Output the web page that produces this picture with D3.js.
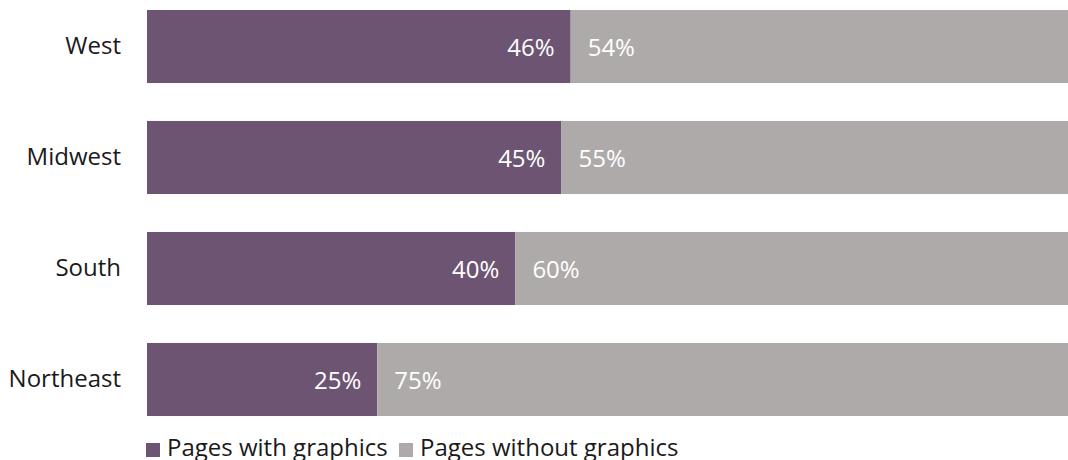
<!DOCTYPE html>
<html>
<head>
<meta charset="utf-8">
<script src="https://cdn.jsdelivr.net/npm/d3@7"></script>
<style>
  html, body { margin: 0; padding: 0; background: #fff; }
  svg { display: block; font-family: "Open Sans", sans-serif; }
</style>
</head>
<body>
<svg id="chart" width="1068" height="460"></svg>
<script>
// Share of pages with / without graphics by region
const regions = ["West", "Midwest", "South", "Northeast"];
const withGraphics = [46, 45, 40, 25];
const withoutGraphics = [54, 55, 60, 75];
const seriesNames = ["Pages with graphics", "Pages without graphics"];
const seriesColors = ["#6d5473", "#aeaaa9"];

const svg = d3.select("#chart");
const W = 1068;

const x = d3.scaleLinear().domain([0, 100]).range([147, W]);
const y = d3.scaleBand()
  .domain(regions)
  .range([-9, 435])
  .paddingInner(0.342)
  .paddingOuter(0.171);

const rows = regions.map((r, i) => ({
  region: r,
  parts: [
    { key: 0, x0: 0, x1: withGraphics[i], v: withGraphics[i] },
    { key: 1, x0: withGraphics[i], x1: withGraphics[i] + withoutGraphics[i], v: withoutGraphics[i] }
  ]
}));

const g = svg.append("g");

const row = g.selectAll("g.row").data(rows).join("g").attr("class", "row");

row.selectAll("rect")
  .data(d => d.parts.map(p => ({ ...p, region: d.region })))
  .join("rect")
  .attr("x", d => x(d.x0))
  .attr("y", d => y(d.region))
  .attr("width", d => x(d.x1) - x(d.x0))
  .attr("height", y.bandwidth())
  .attr("fill", d => seriesColors[d.key]);

// value labels either side of the split
row.selectAll("text.val")
  .data(d => d.parts.map(p => ({ ...p, region: d.region })))
  .join("text")
  .attr("class", "val")
  .attr("x", d => d.key === 0 ? x(d.x1) - 16 : x(d.x0) + 17)
  .attr("y", d => y(d.region) + y.bandwidth() / 2 + 1)
  .attr("dy", "0.35em")
  .attr("text-anchor", d => d.key === 0 ? "end" : "start")
  .attr("fill", "#ffffff")
  .attr("font-size", 24)
  .text(d => d.v + "%");

// category axis
const yAxis = g.append("g")
  .attr("transform", `translate(${x(0)},0)`)
  .call(d3.axisLeft(y).tickSize(0).tickPadding(26));
yAxis.select(".domain").remove();
yAxis.selectAll("text")
  .attr("font-size", 24)
  .attr("font-family", "Open Sans, sans-serif")
  .attr("fill", "#1a1a1a");

// legend along the bottom edge
const legendX = [146, 399];
const legend = svg.append("g");
const li = legend.selectAll("g").data(seriesNames).join("g")
  .attr("transform", (d, i) => `translate(${legendX[i]},443)`);
li.append("rect")
  .attr("width", 14).attr("height", 14)
  .attr("fill", (d, i) => seriesColors[i]);
li.append("text")
  .attr("x", 21).attr("y", 12.5)
  .attr("font-size", 24)
  .attr("fill", "#1a1a1a")
  .text(d => d);
</script>
</body>
</html>
